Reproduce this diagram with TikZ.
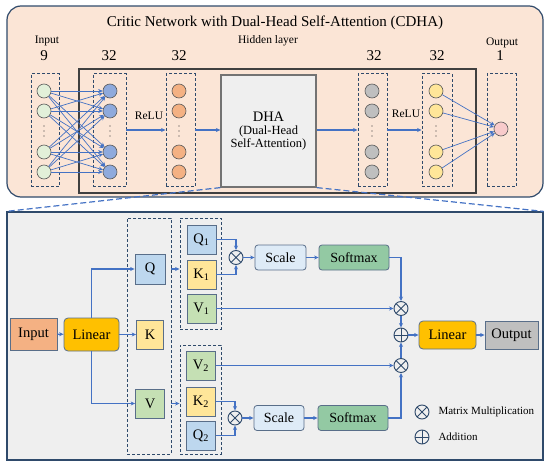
\documentclass[tikz,border=0pt]{standalone}
\usepackage{fontspec}
\setmainfont{Liberation Serif}
\usepackage{tikz}
\usetikzlibrary{arrows.meta, positioning, calc}
\usepackage{xcolor}
\definecolor{panelPeach}{HTML}{FBE5D6}
\definecolor{panelGray}{HTML}{EFEFEF}
\definecolor{frameNavy}{HTML}{2F4A6B}
\definecolor{linkBlue}{HTML}{4472C4}
\definecolor{inGreen}{HTML}{E2F0D9}
\definecolor{hidBlue}{HTML}{8FAADC}
\definecolor{hidOrange}{HTML}{F4B183}
\definecolor{hidGray}{HTML}{BFBFBF}
\definecolor{hidYellow}{HTML}{FFE699}
\definecolor{outPink}{HTML}{F8CBCB}
\definecolor{qBlue}{HTML}{BDD7EE}
\definecolor{vGreen}{HTML}{C5E0B4}
\definecolor{linGold}{HTML}{FFC000}
\definecolor{scaleBlue}{HTML}{DEEBF7}
\definecolor{softGreen}{HTML}{93C9A3}

\tikzset{
    neuron/.style={circle, draw=black!65, line width=0.6pt, minimum size=14pt, inner sep=0pt},
    layerbox/.style={draw=frameNavy, line width=0.9pt, dash pattern=on 3pt off 2pt, inner sep=0pt},
    link/.style={linkBlue, line width=1.3pt, -{Stealth[length=4.5pt, width=4pt]}},
    fan/.style={linkBlue, line width=0.7pt, -{Stealth[length=4.5pt, width=4pt]}},
    block/.style={draw=frameNavy!80, line width=0.8pt, inner sep=0pt, font=\fontsize{14.5}{16}\selectfont},
    opbox/.style={block, rounded corners=3pt, minimum height=25pt, font=\fontsize{14}{16}\selectfont},
    mulop/.style={circle, draw=frameNavy, line width=0.9pt, minimum size=14pt, inner sep=0pt,
        path picture={\draw[frameNavy, line width=0.9pt]
            (path picture bounding box.north west) -- (path picture bounding box.south east)
            (path picture bounding box.north east) -- (path picture bounding box.south west);}},
    addop/.style={circle, draw=frameNavy, line width=0.9pt, minimum size=14pt, inner sep=0pt,
        path picture={\draw[frameNavy, line width=0.9pt]
            (path picture bounding box.north) -- (path picture bounding box.south)
            (path picture bounding box.east) -- (path picture bounding box.west);}},
    lbl/.style={font=\fontsize{11.5}{13}\selectfont},
    num/.style={font=\fontsize{15}{17}\selectfont}
}

\begin{document}
\begin{tikzpicture}[x=1pt, y=-1pt]
    \useasboundingbox (0,0) rectangle (550,466);

    % Upper panel
    \draw[frameNavy, line width=1.2pt, fill=panelPeach, rounded corners=14pt] (7,6) rectangle (543,197);
    \node[font=\fontsize{15}{17}\selectfont] (title) at (275,23) {Critic Network with Dual-Head Self-Attention (CDHA)};
    \draw[black!75, line width=1.2pt] (79,69) rectangle (476,193);

    % Layer headings
    \node[lbl] (inlbl) at (47,41) {Input};
    \node[lbl] (hidlbl) at (268,41) {Hidden layer};
    \node[lbl] (outlbl) at (502,43) {Output};
    \node[num] (n0) at (44,56) {9};
    \node[num] (n1) at (109,56) {32};
    \node[num] (n2) at (179,56) {32};
    \node[num] (n3) at (374,56) {32};
    \node[num] (n4) at (437,56) {32};
    \node[num] (n5) at (500,56) {1};

    % Dashed layer boxes
    \foreach \c/\x/\w in {i/45/28, a/109.5/33, b/180.5/29, c/372.5/29, d/437/30, o/501.5/29}
        \node[layerbox, minimum width=\w pt, minimum height=113pt] (\c box) at (\x,130) {};

    % Neurons
    \foreach \c/\x/\col in {i/44/inGreen, a/110/hidBlue, b/179/hidOrange, c/372/hidGray, d/436/hidYellow} {
        \foreach \k/\y in {1/91, 2/111, 3/152, 4/172}
            \node[neuron, fill=\col] (\c\k) at (\x,\y) {};
        \foreach \d in {126,131,136}
            \fill[black!80] (\x,\d) circle (0.6pt);
    }
    \node[neuron, fill=outPink] (o) at (501,129) {};

    % DHA block
    \node[draw=black!55, line width=1.2pt, fill=panelGray, minimum width=95pt, minimum height=112pt,
        align=center, inner sep=0pt] (dha) at (268.5,131)
        {{\fontsize{14.5}{16}\selectfont DHA}\\[1.5pt]{\fontsize{12.5}{14.5}\selectfont (Dual-Head}\\[0.5pt]{\fontsize{12.5}{14.5}\selectfont Self-Attention)}};

    % Connections
    \foreach \s in {1,...,4}
        \foreach \t in {1,...,4}
            \draw[fan] (i\s) -- (a\t);
    \foreach \s in {1,...,4}
        \draw[fan] (d\s) -- (o);
    \draw[link] (abox.east) -- (bbox.west);
    \node[lbl] (relu1) at (149,116) {ReLU};
    \draw[link] (bbox.east) -- (bbox.east -| dha.west);
    \draw[link] (dha.east |- cbox) -- (cbox.west);
    \draw[link] (cbox.east) -- (dbox.west);
    \node[lbl] (relu2) at (406,114) {ReLU};

    % Lower panel
    \node[draw=frameNavy, line width=1.2pt, fill=panelGray, minimum width=536pt, minimum height=248pt] (att) at (275,336) {};
    \draw[linkBlue, line width=1.2pt, dash pattern=on 6pt off 3pt] (dha.south west) -- (att.north west);
    \draw[linkBlue, line width=1.2pt, dash pattern=on 6pt off 3pt] (dha.south east) -- (att.north east);

    % Projection
    \node[block, fill=hidOrange, minimum width=47pt, minimum height=32pt] (inp) at (33.5,334) {Input};
    \node[block, fill=linGold, rounded corners=4pt, minimum width=55pt, minimum height=33pt] (lin1) at (91.5,334.5) {Linear};
    \node[layerbox, minimum width=44pt, minimum height=236pt] (qkv) at (149,336) {};
    \node[block, fill=qBlue, minimum width=30pt, minimum height=30pt] (q) at (150,269) {Q};
    \node[block, fill=hidYellow, minimum width=27pt, minimum height=29pt] (k) at (150,334.5) {K};
    \node[block, fill=vGreen, minimum width=29pt, minimum height=29pt] (v) at (150,403.5) {V};

    % Heads
    \node[layerbox, minimum width=41pt, minimum height=111pt] (head1) at (200.5,273.5) {};
    \node[layerbox, minimum width=41pt, minimum height=109pt] (head2) at (200.5,399.5) {};
    \node[block, fill=qBlue, minimum width=29pt, minimum height=29pt] (q1) at (201.5,239.5) {Q\textsubscript{1}};
    \node[block, fill=hidYellow, minimum width=29pt, minimum height=29pt] (k1) at (201.5,274.5) {K\textsubscript{1}};
    \node[block, fill=vGreen, minimum width=29pt, minimum height=29pt] (v1) at (201.5,308.5) {V\textsubscript{1}};
    \node[block, fill=vGreen, minimum width=29pt, minimum height=29pt] (v2) at (201,365.5) {V\textsubscript{2}};
    \node[block, fill=hidYellow, minimum width=29pt, minimum height=29pt] (k2) at (201,401.5) {K\textsubscript{2}};
    \node[block, fill=qBlue, minimum width=29pt, minimum height=29pt] (q2) at (201,435.5) {Q\textsubscript{2}};

    % Attention ops
    \node[mulop] (mul1) at (236,257.5) {};
    \node[opbox, fill=scaleBlue, minimum width=51pt] (scale1) at (280.5,257.5) {Scale};
    \node[opbox, fill=softGreen, minimum width=70pt] (soft1) at (354,257.5) {Softmax};
    \node[mulop] (mul2) at (235,418) {};
    \node[opbox, fill=scaleBlue, minimum width=50pt] (scale2) at (279,418) {Scale};
    \node[opbox, fill=softGreen, minimum width=70pt] (soft2) at (353,418) {Softmax};
    \node[mulop] (mul3) at (401,308.5) {};
    \node[addop] (add) at (401,335) {};
    \node[mulop] (mul4) at (401,365.5) {};
    \node[block, fill=linGold, rounded corners=4pt, minimum width=57pt, minimum height=28pt] (lin2) at (447.5,335) {Linear};
    \node[block, fill=hidGray, minimum width=53pt, minimum height=28pt] (out) at (511.5,335) {Output};

    % Legend
    \node[mulop] (lgmul) at (422,412) {};
    \node[anchor=west, font=\fontsize{11}{13}\selectfont] (lgmultxt) at (435,412) {Matrix Multiplication};
    \node[addop] (lgadd) at (422,437) {};
    \node[anchor=west, font=\fontsize{11}{13}\selectfont] (lgaddtxt) at (435,437) {Addition};

    % Arrows
    \draw[link] (inp) -- (lin1);
    \draw[link] (lin1.north) |- (q.west);
    \draw[link] (lin1) -- (k);
    \draw[link] (lin1.south) |- (v.west);
    \draw[link] (qkv.east |- q) -- (head1.west |- q);
    \draw[link] (qkv.east |- v) -- (head2.west |- v);
    \draw[link] (q1.east) -| (mul1.north);
    \draw[link] (k1.east) -| (mul1.south);
    \draw[link] (mul1) -- (scale1);
    \draw[link] (scale1) -- (soft1);
    \draw[link] (k2.east) -| (mul2.north);
    \draw[link] (q2.east) -| (mul2.south);
    \draw[link] (mul2) -- (scale2);
    \draw[link] (scale2) -- (soft2);
    \draw[link] (soft1.east) -| (mul3.north);
    \draw[link] (v1.east) -- (mul3.west);
    \draw[link] (soft2.east) -| (mul4.south);
    \draw[link] (v2.east) -- (mul4.west);
    \draw[link] (mul3) -- (add);
    \draw[link] (mul4) -- (add);
    \draw[link] (add) -- (lin2);
    \draw[link] (lin2) -- (out);
\end{tikzpicture}
\end{document}
